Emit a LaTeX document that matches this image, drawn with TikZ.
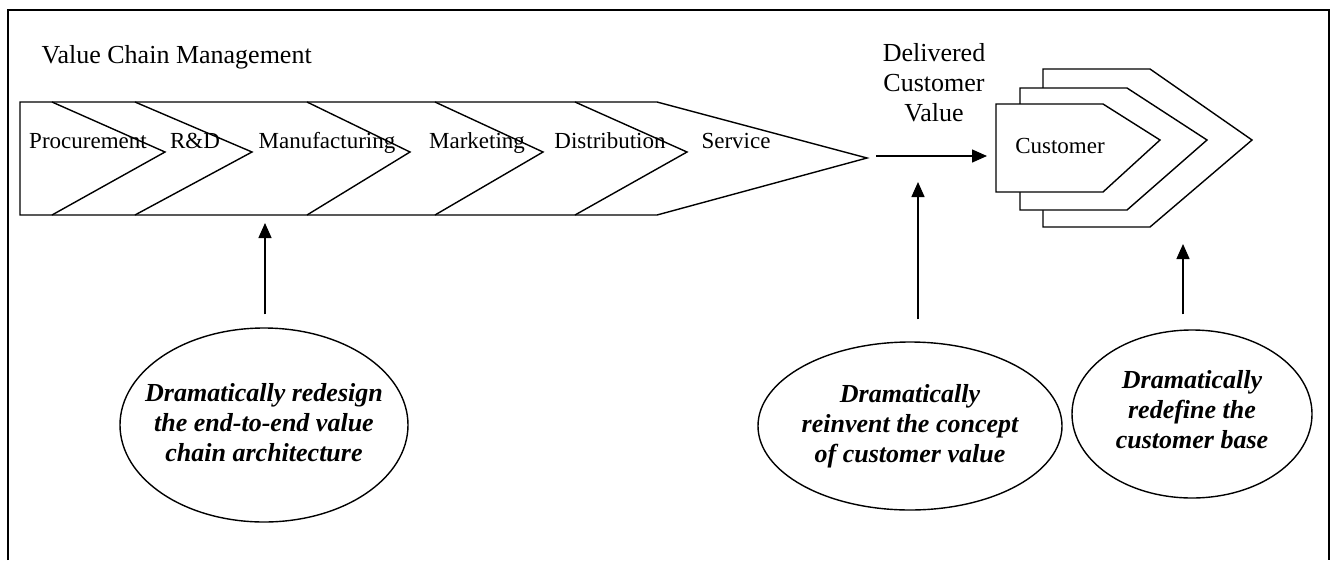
\documentclass[tikz,border=0pt]{standalone}
\usepackage{fontspec}
\setmainfont{Liberation Serif}
\usetikzlibrary{arrows.meta,shapes.geometric}

\begin{document}
\begin{tikzpicture}[x=1pt,y=-1pt,line width=1.4pt,line join=miter,
  lab/.style={font=\fontsize{23}{27}\selectfont,inner sep=0pt,anchor=base},
  headtxt/.style={font=\fontsize{26}{30}\selectfont,inner sep=0pt},
  idea/.style={draw,ellipse,inner sep=0pt},
  ideatxt/.style={font=\fontsize{26}{30}\selectfont\bfseries\itshape,align=center,inner sep=0pt},
  arr/.style={-{Triangle[length=15pt,width=13pt]}},
  layer/.style={draw,fill=white}]

\useasboundingbox (0,0) rectangle (1335,560);
\fill[white] (0,0) rectangle (1335,560);

% outer frame (runs off the bottom of the page)
\draw[line width=1.8pt] (8,560) -- (8,10) -- (1329,10) -- (1329,560);

% heading
\node[headtxt,anchor=base west] (title) at (41,63) {Value Chain Management};

% value chain band
\draw[layer] (20,102) -- (657,102) -- (867,158) -- (657,215) -- (20,215) -- cycle;
\draw (52,102) -- (165,152) -- (52,215);
\draw (135,102) -- (252,152) -- (135,215);
\draw (307,102) -- (410,152) -- (307,215);
\draw (435,102) -- (543,152) -- (435,215);
\draw (575,102) -- (687,152) -- (575,215);
\coordinate (svtip) at (867,156);
\coordinate (chainbot) at (265,223);

\node[lab] (proc) at (88,148) {Procurement};
\node[lab] (rd)   at (195,148) {R\&D};
\node[lab] (manu) at (327,148) {Manufacturing};
\node[lab] (mkt)  at (477,148) {Marketing};
\node[lab] (dist) at (610,148) {Distribution};
\node[lab] (serv) at (736,148) {Service};

% delivered value
\node[headtxt,align=center] (dcv) at (934,83) {Delivered\\Customer\\Value};
\coordinate (dvbot) at (918,182);

% customer layers
\draw[layer] (1043,69) -- (1150,69) -- (1252,140) -- (1150,227) -- (1043,227) -- cycle;
\draw[layer] (1020,88) -- (1127,88) -- (1207,140) -- (1127,210) -- (1020,210) -- cycle;
\draw[layer] (996,104) -- (1103,104) -- (1160,140) -- (1103,192) -- (996,192) -- cycle;
\node[lab] (cust) at (1060,153) {Customer};
\coordinate (custin) at (996,156);
\coordinate (custbot) at (1183,244);

\draw[arr] ([xshift=9pt]svtip) -- ([xshift=-9pt]custin);

% initiatives
\node[idea,minimum width=288pt,minimum height=194pt] (e1) at (264,425) {};
\node[ideatxt] (t1) at (e1.center) {\strut Dramatically redesign\\\strut the end-to-end value\\\strut chain architecture};

\node[idea,minimum width=304pt,minimum height=168pt] (e2) at (910,426) {};
\node[ideatxt] (t2) at (e2.center) {\strut Dramatically\\\strut reinvent the concept\\\strut of customer value};

\node[idea,minimum width=240pt,minimum height=168pt] (e3) at (1192,414) {};
\node[ideatxt] (t3) at ([yshift=2pt]e3.center) {\strut Dramatically\\\strut redefine the\\\strut customer base};

\draw[arr] (e1.north -| chainbot) ++(0,-13) -- (chainbot);
\draw[arr] (e2.north -| dvbot) ++(0,-22) -- (dvbot);
\draw[arr] (e3.north -| custbot) ++(0,-15) -- (custbot);

\end{tikzpicture}
\end{document}
